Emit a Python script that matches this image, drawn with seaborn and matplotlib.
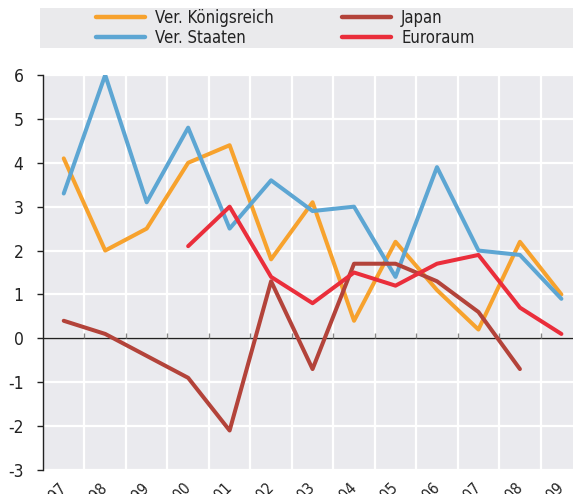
import matplotlib
matplotlib.use("Agg")
import matplotlib.pyplot as plt
import seaborn as sns
import numpy as np
import pandas as pd
from matplotlib.lines import Line2D
from matplotlib.patches import Rectangle

years = list(range(1997, 2010))
uk = [4.1, 2.0, 2.5, 4.0, 4.4, 1.8, 3.1, 0.4, 2.2, 1.1, 0.2, 2.2, 1.0]
us = [3.3, 6.0, 3.1, 4.8, 2.5, 3.6, 2.9, 3.0, 1.4, 3.9, 2.0, 1.9, 0.9]
japan = [0.4, 0.1, -0.4, -0.9, -2.1, 1.3, -0.7, 1.7, 1.7, 1.3, 0.6, -0.7, np.nan]
euro = [np.nan, np.nan, np.nan, 2.1, 3.0, 1.4, 0.8, 1.5, 1.2, 1.7, 1.9, 0.7, 0.1]

names = ["Ver. Königsreich", "Ver. Staaten", "Japan", "Euroraum"]
colors = ["#F7A22D", "#5DA6D3", "#B3433A", "#EA2E3B"]

rows = []
for name, vals in zip(names, [uk, us, japan, euro]):
    for y, v in zip(years, vals):
        rows.append({"year": y, "value": v, "series": name})
df = pd.DataFrame(rows).dropna()

sns.set_theme(style="white")
plt.rcParams["font.family"] = ["DejaVu Sans"]
plt.rcParams["font.stretch"] = "condensed"

fig = plt.figure(figsize=(5.73, 4.94), dpi=100)
ax = fig.add_axes([43/573, 24/494, 1 - 43/573, (470-75)/494])
ax.set_facecolor("#EAEAEE")

sns.lineplot(data=df, x="year", y="value", hue="series", hue_order=names,
             palette=colors, linewidth=2.9, ax=ax, legend=False, zorder=3)

ax.set_xlim(years[0] - 0.5, years[-1] + 0.28)
ax.set_ylim(-3, 6)
ax.set_yticks(range(-3, 7))
ax.set_yticklabels([str(v) for v in range(-3, 7)], fontsize=12.5,
                   color="#222222", fontstretch="condensed")
ax.set_xticks(years)
ax.set_xticklabels([str(y) for y in years], rotation=45, ha="right", va="center",
                   rotation_mode="anchor", fontsize=11, color="#222222",
                   fontstretch="condensed")
bounds = [y + 0.5 for y in years[:-1]]
ax.set_xticks(bounds, minor=True)
ax.grid(False)
ax.grid(True, which="minor", axis="x", color="white", linewidth=1.6, zorder=1)
ax.grid(True, which="major", axis="y", color="white", linewidth=1.6, zorder=1)
ax.set_axisbelow(True)
ax.set_xlabel("")
ax.set_ylabel("")

for s in ["top", "right", "bottom"]:
    ax.spines[s].set_visible(False)
ax.spines["left"].set_color("#222222")
ax.spines["left"].set_linewidth(1.0)
ax.tick_params(axis="y", which="major", left=True, length=4, width=1,
               color="#222222", pad=10)
ax.tick_params(axis="x", which="major", bottom=False, pad=5)
ax.tick_params(axis="x", which="minor", bottom=False)

ax.axhline(0, color="#222222", linewidth=1.0, zorder=2)
ax.vlines(bounds, 0, 0.12, color="#888888", linewidth=1.0, zorder=2)

# legend background
fig.patches.append(Rectangle((40/573, 1 - 48/494), 533/573, 40/494,
                             transform=fig.transFigure, facecolor="#EAEAEC",
                             edgecolor="none", zorder=0))
handles = [Line2D([0], [0], color=c, linewidth=3.2, solid_capstyle="round")
           for c in colors]
common = dict(loc="upper left", frameon=False, handlelength=2.95,
              handletextpad=0.6, labelspacing=0.12, borderpad=0,
              borderaxespad=0, prop={"stretch": "condensed", "size": 12})
leg1 = fig.legend(handles[:2], names[:2], bbox_to_anchor=(96/573, 1 - 9/494),
                  **common)
leg2 = fig.legend(handles[2:], names[2:], bbox_to_anchor=(342/573, 1 - 9/494),
                  **common)
for leg in (leg1, leg2):
    for t in leg.get_texts():
        t.set_color("#222222")

fig.savefig("out.png", dpi=100)
